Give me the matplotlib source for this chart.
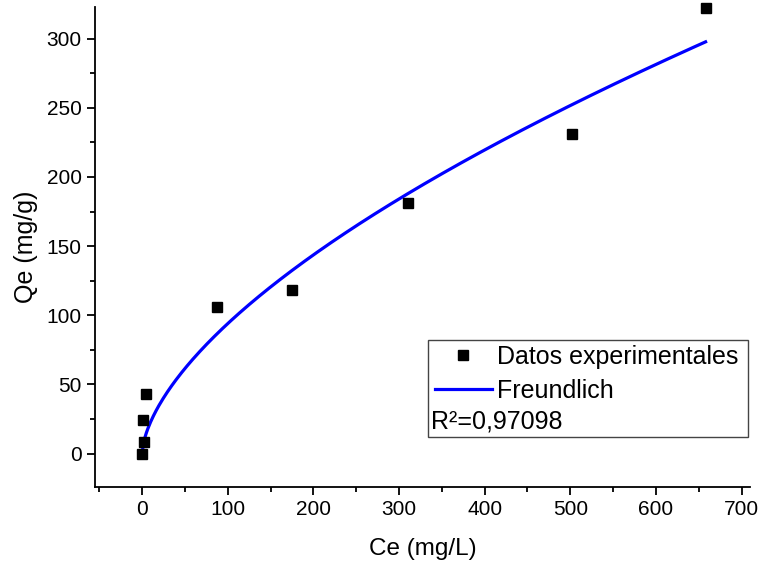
import numpy as np
import matplotlib
matplotlib.use('Agg')
from matplotlib import pyplot as plt
from matplotlib.patches import Rectangle
from matplotlib.ticker import MultipleLocator

plt.rcParams['font.family'] = ['Liberation Sans', 'DejaVu Sans']

# Experimental isotherm points
ce = [0, 2, 1, 5, 88, 175, 310, 502, 658]
qe = [0, 8, 24, 43, 106, 118, 181, 231, 322]

# Freundlich fit parameters: qe = KF * Ce^(1/n)
KF = 5.61
inv_n = 0.612
r2_text = 'R²=0,97098'

fig = plt.figure(figsize=(7.6, 5.66), dpi=100)
ax = fig.add_axes([0.125, 0.14, 0.862, 0.848])

c_fit = np.linspace(0, max(ce), 400)
q_fit = KF * c_fit ** inv_n

ax.plot(ce, qe, 's', color='black', markersize=7.5, label='Datos experimentales',
        clip_on=False, zorder=3)
ax.plot(c_fit, q_fit, '-', color='#0000ff', linewidth=2.3, label='Freundlich')

ax.set_xlim(-55, 710)
ax.set_ylim(-24, 323)
ax.xaxis.set_major_locator(MultipleLocator(100))
ax.xaxis.set_minor_locator(MultipleLocator(50))
ax.yaxis.set_major_locator(MultipleLocator(50))
ax.yaxis.set_minor_locator(MultipleLocator(25))

for side in ['top', 'right']:
    ax.spines[side].set_visible(False)
for side in ['left', 'bottom']:
    ax.spines[side].set_linewidth(1.3)
ax.tick_params(which='major', direction='out', length=6, width=1.3, labelsize=15)
ax.tick_params(which='minor', direction='out', length=3.5, width=1.3)

ax.set_xlabel('Ce (mg/L)', fontsize=17.5, labelpad=14)
ax.set_ylabel('Qe (mg/g)', fontsize=18, labelpad=6)

# legend box with the fit quality line underneath
box = Rectangle((0.508, 0.104), 0.489, 0.202, transform=ax.transAxes,
                facecolor='white', edgecolor='#444444', linewidth=1.0, zorder=4)
ax.add_patch(box)
leg = ax.legend(loc='upper left', bbox_to_anchor=(0.503, 0.316), frameon=False,
                fontsize=18, handlelength=2.3, handletextpad=0.2,
                borderaxespad=0, labelspacing=0.38)
leg.set_zorder(5)
ax.text(0.513, 0.112, r2_text, transform=ax.transAxes, fontsize=18,
        ha='left', va='bottom', zorder=5)

fig.savefig('out.png', dpi=100)
